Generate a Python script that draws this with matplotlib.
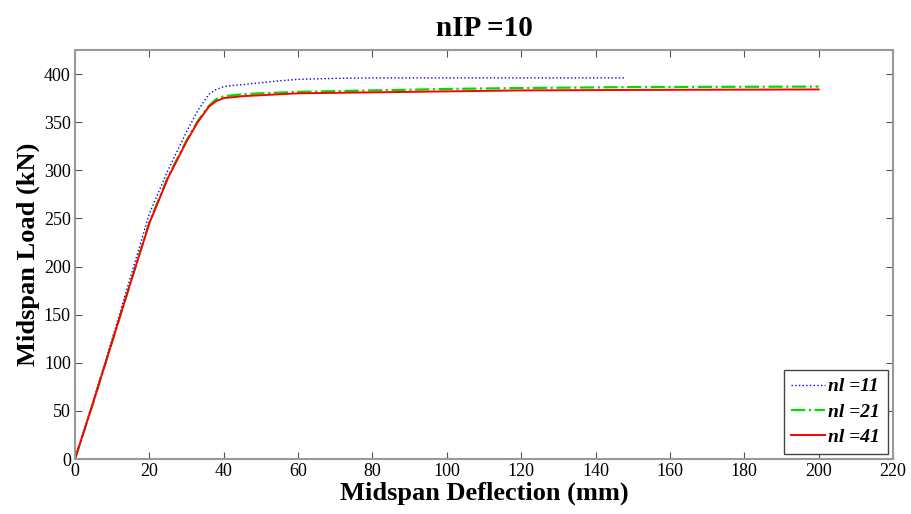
#!/usr/bin/env python
"""Midspan load vs. deflection for nIP = 10, three values of nl."""
import matplotlib
matplotlib.use('Agg')  # noqa: E402
import matplotlib.pyplot as plt

# nl = 11 (blue dotted)
defl_11 = [0, 5, 10, 15, 20, 25, 30, 33, 36, 38, 40, 42, 45, 50, 55, 60, 70, 80, 100, 120, 148]
load_11 = [0, 62, 125, 190, 255, 300, 340, 362, 379, 384, 387, 388, 389, 391, 393, 394.5,
           395.5, 396, 396, 396, 396]

# nl = 21 (green dash-dot)
defl_21 = [0, 5, 10, 15, 20, 25, 30, 33, 36, 38, 40, 45, 50, 60, 80, 100, 120, 150, 200]
load_21 = [0, 60, 122, 184, 246, 293, 331, 351, 367, 374, 377, 379, 380, 381.5, 383,
           384.5, 385.5, 386.5, 387]

# nl = 41 (red solid)
defl_41 = [0, 5, 10, 15, 20, 25, 30, 33, 36, 38, 40, 45, 50, 60, 80, 100, 120, 150, 200]
load_41 = [0, 60, 122, 184, 245, 292, 330, 350, 366, 372, 375, 377, 378, 380, 381, 382,
           383, 383.5, 384]

labels = ["nl =11", "nl =21", "nl =41"]

plt.rcParams['font.family'] = ['Liberation Serif', 'DejaVu Serif']

fig = plt.figure(figsize=(9.12, 5.14), dpi=100)
ax = fig.add_axes([75 / 912, 1 - 459 / 514, (893 - 75) / 912, (459 - 50) / 514])

ax.plot(defl_11, load_11, color='blue', ls=':', lw=1.0, label=labels[0])
ax.plot(defl_21, load_21, color='#00dd00', ls='-.', lw=1.6, label=labels[1])
ax.plot(defl_41, load_41, color='red', lw=1.4, label=labels[2])

ax.set_xlim(0, 220)
ax.set_ylim(0, 425)
ax.set_xticks(range(0, 221, 20))
ax.set_yticks(range(0, 401, 50))
ax.tick_params(direction='in', top=True, right=True, labelsize=13, length=5,
               color='#555555', pad=3)
for sp in ax.spines.values():
    sp.set_color('#999999')
    sp.set_linewidth(1.5)

ax.set_title("nIP =10", fontsize=21, fontweight='bold', pad=10)
ax.set_xlabel("Midspan Deflection (mm)", fontsize=19, fontweight='bold', labelpad=1)
ax.set_ylabel("Midspan Load (kN)", fontsize=19, fontweight='bold', labelpad=3)

leg = ax.legend(loc='lower right', prop={'size': 14, 'weight': 'bold', 'style': 'italic'},
                fancybox=False, edgecolor='#444444', framealpha=1, handlelength=1.7,
                borderaxespad=0.26, labelspacing=0.4, handletextpad=0.2, borderpad=0.4)
leg.get_frame().set_linewidth(1.0)

fig.savefig("out.png", dpi=100)
